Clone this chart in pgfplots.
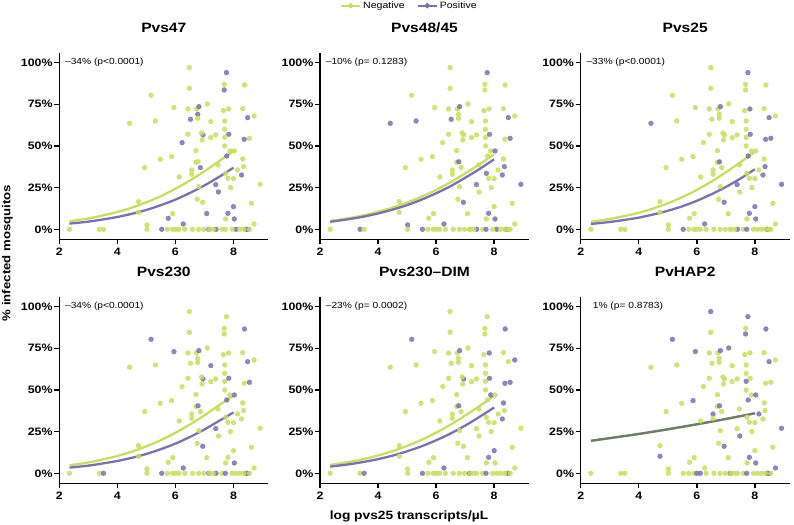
\documentclass[border=0pt]{standalone}
\usepackage{fontspec}
\setmainfont{Liberation Sans}[FakeStretch=1.15]
\usepackage{pgfplots}
\usepackage{pgfplotstable}
\pgfplotsset{compat=1.18}

\definecolor{cneg}{HTML}{C6DF5F}
\definecolor{cpos}{HTML}{7A72AE}
\definecolor{cmix}{HTML}{6D7A70}

% same mosquito feeds in every panel; columns a-f: antibody class per panel (n = negative, p = positive)
\pgfplotstableread{
x y a b c d e f
2.35 0 n n n n n n
3.38 0 n p n n n n
3.52 0 n n n p p n
4.42 63.6 n p p n n n
4.73 16.6 n n n n n n
4.73 10.2 n n n n n p
4.94 37 n n n n n n
5.02 2.6 n p n n n n
5.02 0 n n n n n n
5.16 80.4 n n n p p p
5.31 65 n p n n n n
5.48 42 n n n n n n
5.53 0 p p p p p n
5.72 0 n n n n n n
5.75 6.6 p n n n n n
5.87 43.6 n n n n n p
5.91 9.4 n n n n n n
5.95 73 n n n p n p
5.90 0 n n n n n n
6.00 0 n n n n n p
6.12 0 n n n n n p
6.13 31.4 n n n n n n
6.23 52 p n n n n n
6.27 3.2 p p p p p n
6.32 0 n n n n n n
6.43 57 n n n n n n
6.43 72.2 n n n n n n
6.48 97 n n n n n p
6.48 84.6 n n n n n n
6.52 66 p p n n n n
6.56 35.6 n n n n n p
6.56 33 n n n n n n
6.59 0 n n n n n n
6.71 47.2 n n n n n n
6.71 40.2 n n n n n n
6.73 72.2 n n n n n n
6.75 18 n n n n n n
6.77 69 p n n n n n
6.77 66.6 n n n n n n
6.78 40.5 n p p p p p
6.81 73.6 p p p p p p
6.81 25.6 n n n n n n
6.86 37 p n n n n n
6.94 16.2 n p p p n p
6.95 56.6 p n n p p n
6.90 57.8 n n n n n n
6.92 53.6 n n n n n n
6.98 0 n n n n n n
7.08 9.4 p n n n n n
7.10 75.2 n n n n n p
7.15 0 p n n p p p
7.18 0 n n n n n n
7.22 64.6 n n n p n n
7.22 55 n n n n n n
7.40 0 p p p p n n
7.39 56.6 n n n n n n
7.39 26.8 p p p p n n
7.47 38.6 n n n n n n
7.48 22.4 p n n n n p
7.60 0 n n n n n n
7.65 71.2 n n n n n n
7.68 87 n n n n n n
7.68 83.6 p n n n n p
7.70 60 n n n n n n
7.70 65 n n n n n n
7.70 55.2 n n n n n p
7.70 50 n n n n n n
7.73 33.6 n p n n n n
7.73 6.2 n n n n n n
7.76 94 p p p n n p
7.77 44 p n p p n p
7.81 9.6 p p p n p p
7.81 30.6 n n n n n n
7.83 72.2 n n p n p n
7.84 57 p p p p p n
7.88 47 n n n n p n
7.72 0 n p p p p p
7.90 25 n n n n n n
8.00 13.6 p n p n p n
8.00 30.4 n n n n n n
8.03 47 n p n p n p
8.03 6.2 p p p p n p
8.09 0 p p n n n n
8.14 35.6 n n n n n p
8.22 0 n n n n n n
8.28 32.6 p p p n p n
8.32 72.4 n n n n n n
8.32 42.2 n n n n p n
8.35 37.6 n p p n n n
8.37 54 p n p n p n
8.38 86.6 n n n p p p
8.43 0 p p p p n p
8.49 0 p n n p p p
8.49 67 p p p p n p
8.55 54.6 n p p p p n
8.62 15.6 n n n n n n
8.71 68 n n n n p n
8.71 3.2 n n n n n p
8.92 27 n p p n n p
8.36 0 n n n n n n
8.55 0 n n n n n n
6.80 0 n n n n n n
7.30 0 n n n n n n
7.95 0 n n n n n n
}\pts

\pgfplotsset{
  panel/.style={
    scale only axis, width=209bp, height=186bp, anchor=south west,
    xmin=2, xmax=9.2, ymin=-6, ymax=105.6,
    axis x line*=bottom, axis y line*=left,
    axis line style={line width=1.4bp,-},
    xtick={2,4,6,8}, xticklabels={2,4,6,8},
    ytick={0,25,50,75,100}, yticklabels={0\%,25\%,50\%,75\%,100\%},
    tick align=outside, major tick length=5bp,
    tick style={line width=1.4bp,black},
    tick label style={font=\bfseries\fontsize{10.8}{12}\selectfont},
    yticklabel style={inner xsep=1.5bp},
    title style={font=\bfseries\fontsize{13.6}{16}\selectfont,at={(0.5,1)},anchor=center,yshift=19.6bp},
  },
  pts/.style={scatter, only marks, mark size=2.4bp, opacity=0.85,
    scatter src=explicit symbolic,
    scatter/classes={n={mark=*,cneg},p={mark=*,cpos}}},
  fitneg/.style={cneg, line width=2.3bp, no marks, smooth},
  fitpos/.style={cpos, line width=2.3bp, no marks, smooth},
}
\tikzset{note/.style={anchor=west, font=\fontsize{8.9}{10}\selectfont}}

\begin{document}
\begin{tikzpicture}
\path[use as bounding box] (0,0) rectangle (794bp,525bp);

\begin{axis}[panel, at={(59.3bp,285.7bp)}, title={Pvs47}]
\addplot[pts] table[x=x,y=y,meta=a] {\pts};
\addplot[fitneg] coordinates {(2.35,4.8)(3,6.5)(3.5,8.3)(4,10.4)(4.5,13.0)(5,16.2)(5.5,19.9)(6,24.3)(6.5,29.3)(7,34.8)(7.5,40.8)(8,47.0)};
\addplot[fitpos] coordinates {(2.35,3.4)(3,4.6)(3.5,5.9)(4,7.4)(4.5,9.3)(5,11.6)(5.5,14.5)(6,17.8)(6.5,21.8)(7,26.3)(7.5,31.4)(8,37.0)};
\node[note] at (axis cs:2.08,100) {–34\% (p<0.0001)};
\end{axis}

\begin{axis}[panel, at={(320bp,285.7bp)}, title={Pvs48/45},
  legend style={at={(0.428,1.256)}, anchor=center, draw=none, fill=none,
    legend columns=2, font=\fontsize{9.2}{11}\selectfont,
    /tikz/every even column/.append style={column sep=10bp}},
  legend image code/.code={\draw[#1] (0bp,0bp) -- (19bp,0bp); \draw[#1, mark repeat=2, mark phase=2] plot coordinates {(0bp,0bp) (9.5bp,0bp) (19bp,0bp)};}]
\addlegendimage{cneg, line width=2bp, mark=*, mark size=1.6bp}
\addlegendentry{Negative}
\addlegendimage{cpos, line width=2bp, mark=*, mark size=1.6bp}
\addlegendentry{Positive}
\addplot[pts] table[x=x,y=y,meta=b] {\pts};
\addplot[fitneg] coordinates {(2.35,5.0)(3,6.7)(3.5,8.4)(4,10.5)(4.5,13.0)(5,16.0)(5.5,19.6)(6,23.6)(6.5,28.3)(7,33.5)(7.5,39.1)(8,45.0)};
\addplot[fitpos] coordinates {(2.35,4.5)(3,6.1)(3.5,7.6)(4,9.5)(4.5,11.8)(5,14.5)(5.5,17.8)(6,21.6)(6.5,25.9)(7,30.9)(7.5,36.2)(8,42.0)};
\node[note] at (axis cs:2.08,100) {–10\% (p= 0.1283)};
\end{axis}

\begin{axis}[panel, at={(580.7bp,285.7bp)}, title={Pvs25}]
\addplot[pts] table[x=x,y=y,meta=c] {\pts};
\addplot[fitneg] coordinates {(2.35,4.5)(3,6.2)(3.5,7.9)(4,9.9)(4.5,12.5)(5,15.6)(5.5,19.3)(6,23.6)(6.5,28.6)(7,34.2)(7.5,40.2)(8,46.5)};
\addplot[fitpos] coordinates {(2.35,3.2)(3,4.4)(3.5,5.6)(4,7.0)(4.5,8.9)(5,11.1)(5.5,13.8)(6,17.1)(6.5,21.0)(7,25.4)(7.5,30.4)(8,36.0)};
\node[note] at (axis cs:2.08,100) {–33\% (p<0.0001)};
\end{axis}

\begin{axis}[panel, at={(59.3bp,41.7bp)}, title={Pvs230}]
\addplot[pts] table[x=x,y=y,meta=d] {\pts};
\addplot[fitneg] coordinates {(2.35,4.8)(3,6.5)(3.5,8.3)(4,10.4)(4.5,13.0)(5,16.2)(5.5,19.9)(6,24.3)(6.5,29.3)(7,34.8)(7.5,40.8)(8,46.5)};
\addplot[fitpos] coordinates {(2.35,3.4)(3,4.6)(3.5,5.9)(4,7.4)(4.5,9.3)(5,11.6)(5.5,14.5)(6,17.8)(6.5,21.8)(7,26.3)(7.5,31.4)(8,36.5)};
\node[note] at (axis cs:2.08,100) {–34\% (p<0.0001)};
\end{axis}

\begin{axis}[panel, at={(320bp,41.7bp)}, title={Pvs230–DIM}]
\addplot[pts] table[x=x,y=y,meta=e] {\pts};
\addplot[fitneg] coordinates {(2.35,5.0)(3,6.8)(3.5,8.5)(4,10.7)(4.5,13.3)(5,16.4)(5.5,20.1)(6,24.4)(6.5,29.2)(7,34.6)(7.5,40.4)(8,46.5)};
\addplot[fitpos] coordinates {(2.35,4.0)(3,5.4)(3.5,6.8)(4,8.5)(4.5,10.6)(5,13.2)(5.5,16.2)(6,19.8)(6.5,23.9)(7,28.6)(7.5,33.9)(8,39.5)};
\node[note] at (axis cs:2.08,100) {–23\% (p= 0.0002)};
\end{axis}

\begin{axis}[panel, at={(580.7bp,41.7bp)}, title={PvHAP2}]
\addplot[pts] table[x=x,y=y,meta=f] {\pts};
\addplot[fitneg] coordinates {(2.35,19.5)(3,21.1)(4,23.6)(5,26.4)(6,29.4)(7,32.6)(8,36.0)};
\addplot[cmix, line width=2.3bp, no marks, smooth] coordinates {(2.35,19.5)(3,21.1)(4,23.6)(5,26.4)(6,29.4)(7,32.6)(8,36.0)};
\node[note] at (axis cs:2.3,100) {1\% (p= 0.8783)};
\end{axis}

\node[rotate=90, font=\bfseries\fontsize{11.5}{13}\selectfont] at (7.5bp,272bp) {\% infected mosquitos};
\node[font=\bfseries\fontsize{12}{14}\selectfont] at (409bp,8.3bp) {log pvs25 transcripts/µL};
\end{tikzpicture}
\end{document}
